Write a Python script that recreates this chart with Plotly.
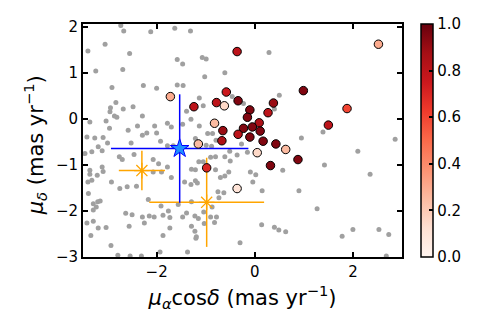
import plotly.graph_objects as go

# field stars (grey)
field_x = [-2.73, -2.67, -2.12, -1.63, -1.31, -3.05, -3.40, -2.55, -1.58, -1.47,
           -1.07, -0.99, -2.69, -3.24, -0.61, -1.02, -2.27, -2.00, -1.58, -1.46,
           -2.91, -2.83, -2.94, -2.95, -2.86, -2.81, -2.68, -2.48, -2.29, -1.13,
           -1.05, -1.39, -1.30, -1.13, -2.04, -1.78, -1.70, -2.58, -2.39, -2.20,
           -2.29, -3.42, -3.26, -3.09, -1.47, -0.96, -0.86, -2.96, 0.29, 0.50,
           0.40, -0.23, -0.46, 0.95, 1.39, 2.86, -0.36, -0.15, -0.27, 0.57,
           2.10, 1.42, -0.09, 0.02, -0.04, 0.15, 0.90, 2.35, 1.27, 0.14,
           0.40, 0.49, 0.63, 2.00, 2.53, 2.73, 1.78, -0.30, 2.68, -0.79,
           -1.21, -0.99, -0.88, -0.51, -0.90, -0.80, -0.61, -0.50, -1.14, -1.21,
           -0.80, -0.61, -0.53, -0.70, -3.03, -2.00, -3.00, -2.52, -1.92, -1.78,
           -1.66, -3.11, -2.76, -2.70, -2.46, -3.32, -3.46, -3.11, -3.09, -3.36,
           -3.36, -3.21, -2.92, -2.75, -2.60, -2.41, -2.07, -2.07, -1.96, -1.90,
           -1.78, -1.70, -1.29, -1.43, -1.21, -1.17, -2.17, -3.39, -3.29, -3.20,
           -3.15, -3.29, -3.23, -3.42, -3.29, -2.63, -2.50, -2.29, -2.15, -2.05,
           -1.87, -1.73, -1.76, -1.91, -1.56, -1.39, -1.22, -1.15, -3.03, -3.19,
           -3.34, -2.56, -2.25, -1.73, -1.29, -1.19, -1.87, -2.93, -1.37, -2.79,
           -2.54, -2.31, -1.05, -1.30, -0.75, -0.63, -0.73, -1.29, -1.04, -0.87,
           -0.90, -0.78, -0.82, -1.03, -1.22, -1.20, -1.47, -3.36, -3.40, -3.32,
           -3.19, -1.93]
field_y = [2.04, 1.92, 1.90, 1.98, 1.92, 1.63, 1.48, 1.43, 1.30, 1.20,
           1.34, 1.31, 1.08, 1.05, 1.01, 0.92, 0.73, 0.67, 0.74, 0.73,
           0.69, 0.36, 0.25, 0.16, 0.07, 0.04, 0.22, 0.27, 0.07, 0.46,
           0.29, 0.17, 0.00, -0.15, -0.15, -0.09, -0.17, -0.24, -0.15, -0.30,
           -0.35, -0.39, -0.41, -0.40, -0.11, -0.31, -0.31, -0.20, 1.45, 0.52,
           0.22, 0.34, 0.49, -0.41, -0.28, -0.44, -0.78, -0.72, -0.54, -1.11,
           -0.70, -1.00, -1.15, -1.21, -1.37, -1.56, -1.56, -1.20, -1.95, -2.30,
           -2.35, -2.41, -2.45, -2.40, -2.40, -2.51, -2.55, -2.69, -2.98, -0.46,
           -0.42, -0.57, -0.59, -0.70, -0.83, -0.82, -0.82, -0.91, -0.93, -1.10,
           -1.10, -1.24, -1.15, -1.27, -0.04, -0.30, -0.52, -0.52, -0.48, -0.58,
           -0.58, -0.69, -0.82, -0.88, -0.77, -0.71, -0.75, -1.04, -1.14, -1.11,
           -1.20, -1.22, -1.37, -1.51, -1.47, -1.46, -0.88, -1.15, -0.97, -1.15,
           -1.04, -1.27, -1.09, -1.37, -1.34, -1.39, -1.75, -1.62, -1.84, -1.80,
           -1.78, -1.98, -1.91, -2.26, -2.22, -2.05, -2.08, -2.13, -2.11, -2.13,
           -2.09, -2.14, -2.00, -1.89, -1.86, -2.04, -2.11, -2.16, -2.36, -2.37,
           -2.53, -2.33, -2.26, -2.37, -2.33, -2.56, -2.53, -2.75, -2.89, -2.96,
           -2.98, -2.98, -0.93, -1.42, -1.58, -1.60, -1.71, -1.80, -2.02, -1.91,
           -2.13, -2.13, -2.25, -2.27, -2.44, -2.59, -2.13, -0.06, -1.37, -1.33,
           -0.60, -2.89]

# members, coloured by membership probability
memb_x = [-0.58, -0.34, -0.78, -0.62, -1.24, 0.99, 0.38, -0.10, 0.27, -0.15,
          0.09, 1.50, -0.82, -0.23, -0.05, -0.65, 0.11, -0.34, -0.10, -0.67,
          0.17, 0.43, -1.15, 0.63, 0.05, 0.88, 0.32, -0.98, -0.36, -1.72,
          2.52, 1.88, -0.36]
memb_y = [0.59, 0.40, 0.36, 0.29, 0.27, 0.62, 0.35, 0.20, 0.14, 0.04,
          -0.08, -0.13, -0.09, -0.20, -0.17, -0.25, -0.26, -0.33, -0.39, -0.47,
          -0.48, -0.54, -0.54, -0.66, -0.73, -0.88, -1.01, -1.06, 1.47, 0.49,
          1.63, 0.23, -1.51]
memb_p = [0.75, 0.95, 0.80, 0.15, 0.80, 0.95, 0.90, 0.95, 0.80, 0.95,
          0.85, 0.80, 0.25, 0.95, 0.95, 0.90, 0.95, 0.80, 0.95, 0.85,
          0.95, 0.95, 0.25, 0.25, 0.15, 0.95, 0.95, 0.70, 0.80, 0.30,
          0.30, 0.60, 0.10]

# cluster mean proper motion
clus_x = [-1.53]
clus_y = [-0.64]
clus_ex = [1.40]
clus_ey = [1.18]

# literature values
lit_x = [-2.30, -0.98]
lit_y = [-1.12, -1.81]
lit_ex = [0.47, 1.17]
lit_ey = [0.43, 0.97]

reds = [[0.0, 'rgb(255,245,240)'], [0.125, 'rgb(254,224,210)'], [0.25, 'rgb(252,187,161)'],
        [0.375, 'rgb(252,146,114)'], [0.5, 'rgb(251,106,74)'], [0.625, 'rgb(239,59,44)'],
        [0.75, 'rgb(203,24,29)'], [0.875, 'rgb(165,15,21)'], [1.0, 'rgb(103,0,13)']]

fig = go.Figure()

fig.add_trace(go.Scatter(x=field_x, y=field_y, mode='markers',
                         marker=dict(color='#a0a0a0', size=5), hoverinfo='skip'))

fig.add_trace(go.Scatter(
    x=lit_x, y=lit_y, mode='markers',
    marker=dict(symbol='asterisk-open', size=13, color='orange', line=dict(color='orange', width=1.3)),
    error_x=dict(type='data', array=lit_ex, color='orange', thickness=1.5, width=0),
    error_y=dict(type='data', array=lit_ey, color='orange', thickness=1.5, width=0)))

fig.add_trace(go.Scatter(
    x=clus_x, y=clus_y, mode='markers',
    marker=dict(symbol='star', size=14, color='#1e90ff', line=dict(color='blue', width=1)),
    error_x=dict(type='data', array=clus_ex, color='blue', thickness=1.5, width=0),
    error_y=dict(type='data', array=clus_ey, color='blue', thickness=1.5, width=0)))

fig.add_trace(go.Scatter(
    x=memb_x, y=memb_y, mode='markers',
    marker=dict(size=8.5, color=memb_p, colorscale=reds, cmin=0, cmax=1,
                line=dict(color='black', width=1),
                colorbar=dict(thickness=12, len=1, lenmode='fraction', x=1.059, xanchor='left',
                              xpad=0, ypad=0, y=0.5, yanchor='middle',
                              outlinecolor='black', outlinewidth=1.5,
                              tickvals=[0, 0.2, 0.4, 0.6, 0.8, 1.0], tickformat='.1f',
                              ticks='inside', ticklen=4, tickwidth=1.5, tickcolor='black',
                              tickfont=dict(size=15, color='black'))),
    ))

axis_common = dict(showgrid=False, zeroline=False, showline=True, linecolor='black', linewidth=2,
                   mirror='ticks', ticks='inside', ticklen=5, tickwidth=1.5, tickcolor='black',
                   tickfont=dict(size=15, color='black'), automargin=False)

# page body adds 8px offset, so margins are shifted by that amount
fig.update_layout(
    width=498, height=332,
    margin=dict(l=75, r=104, t=16, b=83),
    plot_bgcolor='white', paper_bgcolor='white',
    font=dict(family='DejaVu Sans', color='black'),
    showlegend=False,
    xaxis=dict(range=[-3.5, 3.0], tickvals=[-2, 0, 2], ticktext=['\u22122', '0', '2'],
               title=dict(text='<i>μ</i><sub><i>α</i></sub>cos<i>δ</i> (mas yr<sup>\u22121</sup>)',
                          font=dict(size=21), standoff=10),
               **axis_common),
    yaxis=dict(range=[-3.0, 2.07], tickvals=[-3, -2, -1, 0, 1, 2],
               ticktext=['\u22123', '\u22122', '\u22121', '0', '1', '2'],
               **axis_common),
    annotations=[dict(text='<i>μ</i><sub><i>δ</i></sub> (mas yr<sup>\u22121</sup>)',
                      xref='paper', yref='paper', x=-0.15, y=0.48,
                      xanchor='center', yanchor='middle', textangle=-90,
                      showarrow=False, font=dict(size=21))],
)

fig.write_html("out.html")
